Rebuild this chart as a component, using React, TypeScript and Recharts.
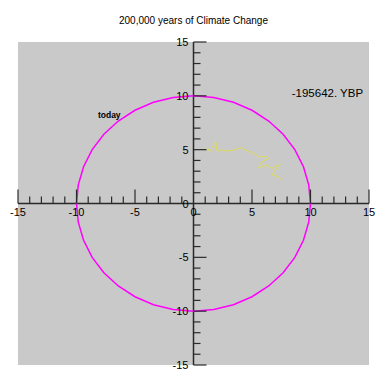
import React from 'react';
import { ComposedChart, XAxis, YAxis, Line, Scatter, ReferenceArea, ReferenceLine } from 'recharts';

// Circle of radius 10 (points every 10 degrees)
const CIRCLE_X = [10, 9.848, 9.397, 8.66, 7.66, 6.428, 5, 3.42, 1.736, 0,
  -1.736, -3.42, -5, -6.428, -7.66, -8.66, -9.397, -9.848, -10,
  -9.848, -9.397, -8.66, -7.66, -6.428, -5, -3.42, -1.736, 0,
  1.736, 3.42, 5, 6.428, 7.66, 8.66, 9.397, 9.848, 10];
const CIRCLE_Y = [0, 1.736, 3.42, 5, 6.428, 7.66, 8.66, 9.397, 9.848, 10,
  9.848, 9.397, 8.66, 7.66, 6.428, 5, 3.42, 1.736, 0,
  -1.736, -3.42, -5, -6.428, -7.66, -8.66, -9.397, -9.848, -10,
  -9.848, -9.397, -8.66, -7.66, -6.428, -5, -3.42, -1.736, 0];

// Climate trail (yellow)
const TRAIL_X = [1.02, 1.22, 1.39, 1.88, 2.02, 2.44, 2.87, 3.44, 4.15, 4.43, 5.14, 5.57, 6.28, 6.42, 5.71, 5.57, 6.28, 6.71, 7.42, 6.99, 6.71, 7.27, 7.56];
const TRAIL_Y = [4.97, 5.12, 4.81, 5.74, 4.87, 4.97, 4.87, 4.97, 5.18, 4.97, 4.66, 4.35, 4.35, 4.2, 3.73, 3.33, 3.57, 3.27, 3.64, 3.11, 2.65, 2.49, 2.09];

const ALL_TICKS = [-15, -14, -13, -12, -11, -10, -9, -8, -7, -6, -5, -4, -3, -2, -1, 1, 2, 3, 4, 5, 6, 7, 8, 9, 10, 11, 12, 13, 14, 15];
const MAJOR_TICKS = [-15, -10, -5, 5, 10, 15];
const LABEL_TICKS = [-15, -10, -5, 0, 5, 10, 15];

const TITLE = '200,000 years of Climate Change';
const TODAY_LABEL = { x: -7.2, y: 8.2, text: 'today' };
const YBP_LABEL = { x: 14.5, y: 10.3, text: '-195642. YBP' };

const circleData = CIRCLE_X.map((x, i) => ({ x, y: CIRCLE_Y[i] }));
const trailData = TRAIL_X.map((x, i) => ({ x, y: TRAIL_Y[i] }));
const xTickData = ALL_TICKS.map((v) => ({ x: v, y: 0, major: MAJOR_TICKS.includes(v) }));
const yTickData = ALL_TICKS.map((v) => ({ x: 0, y: v, major: MAJOR_TICKS.includes(v) }));
const xLabelData = LABEL_TICKS.map((v) => ({ x: v, y: 0, text: String(v) }));
const yLabelData = LABEL_TICKS.map((v) => ({ x: 0, y: v, text: String(v) }));

const FONT = '"Liberation Sans", Arial, Helvetica, sans-serif';
const TICK_COLOR = '#2a2a2a';

const XTickShape = (props: any) => {
  const { cx, cy, payload } = props;
  const len = payload.major ? 14 : 7;
  return <line x1={cx} y1={cy} x2={cx} y2={cy - len} stroke={TICK_COLOR} strokeWidth={1.2} />;
};
const YTickShape = (props: any) => {
  const { cx, cy, payload } = props;
  const len = payload.major ? 13 : 7;
  return <line x1={cx} y1={cy} x2={cx + len} y2={cy} stroke={TICK_COLOR} strokeWidth={1.2} />;
};
const XLabelShape = (props: any) => {
  const { cx, cy, payload } = props;
  return (
    <text x={cx} y={cy + 12} textAnchor="middle" fontFamily={FONT} fontSize={11} fill="#000">
      {payload.text}
    </text>
  );
};
const YLabelShape = (props: any) => {
  const { cx, cy, payload } = props;
  return (
    <text x={cx - 5} y={cy + 4} textAnchor="end" fontFamily={FONT} fontSize={11} fill="#000">
      {payload.text}
    </text>
  );
};
const TodayShape = (props: any) => {
  const { cx, cy, payload } = props;
  return (
    <text x={cx} y={cy + 3} textAnchor="middle" fontFamily={FONT} fontSize={8.5} fontWeight="bold" fill="#000">
      {payload.text}
    </text>
  );
};
const YbpShape = (props: any) => {
  const { cx, cy, payload } = props;
  return (
    <text x={cx} y={cy + 4} textAnchor="end" fontFamily={FONT} fontSize={11.5} fill="#000">
      {payload.text}
    </text>
  );
};

export default function App() {
  return (
    <div style={{ position: 'absolute', left: 0, top: 0, width: 387, height: 387, background: '#fff' }}>
      <div
        style={{
          position: 'absolute',
          left: 0,
          top: 15,
          width: 387,
          textAlign: 'center',
          fontFamily: FONT,
          fontSize: 10,
          color: '#000',
        }}
      >
        {TITLE}
      </div>
      <ComposedChart width={387} height={387} margin={{ top: 42, right: 18, bottom: 22, left: 18 }}>
        <XAxis type="number" dataKey="x" domain={[-15, 15]} hide />
        <YAxis type="number" dataKey="y" domain={[-15, 15]} hide />
        <ReferenceArea x1={-15} x2={15} y1={-15} y2={15} fill="#c9c9c9" fillOpacity={1} stroke="none" />
        <ReferenceLine y={0} stroke={TICK_COLOR} strokeWidth={1.5} />
        <ReferenceLine x={0} stroke={TICK_COLOR} strokeWidth={1.5} />
        <Scatter data={xTickData} dataKey="y" shape={XTickShape} isAnimationActive={false} />
        <Scatter data={yTickData} dataKey="y" shape={YTickShape} isAnimationActive={false} />
        <Line data={trailData} dataKey="y" type="linear" stroke="#dcdc5c" strokeWidth={1} dot={false} isAnimationActive={false} />
        <Line data={circleData} dataKey="y" type="linear" stroke="#ff00ff" strokeWidth={1.5} dot={false} isAnimationActive={false} />
        <Scatter data={xLabelData} dataKey="y" shape={XLabelShape} isAnimationActive={false} />
        <Scatter data={yLabelData} dataKey="y" shape={YLabelShape} isAnimationActive={false} />
        <Scatter data={[TODAY_LABEL]} dataKey="y" shape={TodayShape} isAnimationActive={false} />
        <Scatter data={[YBP_LABEL]} dataKey="y" shape={YbpShape} isAnimationActive={false} />
      </ComposedChart>
    </div>
  );
}
